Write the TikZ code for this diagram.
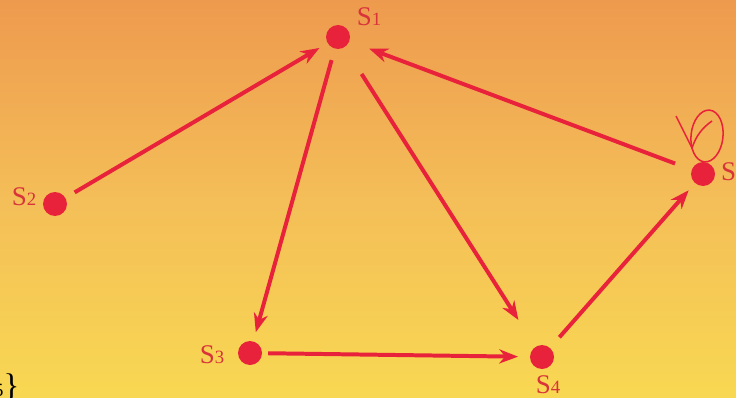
\documentclass[tikz,border=0pt]{standalone}
\usepackage{fontspec}
\setmainfont{Liberation Serif}
\usetikzlibrary{arrows.meta}
\definecolor{dotred}{HTML}{E8223A}
\definecolor{labred}{HTML}{D8343A}
\definecolor{bgtop}{HTML}{EE9A4E}
\definecolor{bgmid}{HTML}{F4BE58}
\definecolor{bgbot}{HTML}{F8D852}
\tikzset{
  state/.style={circle, fill=dotred, draw=none, minimum size=24*0.03cm, inner sep=0pt},
  lab/.style={text=labred, inner sep=0pt},
  link/.style={draw=dotred, line width=3.4pt, -{Stealth[length=16pt, width=12pt, inset=5pt]}},
}
\newcommand{\slab}[1]{{\fontsize{23}{26}\selectfont S}{\fontsize{16}{18}\selectfont #1}}
\begin{document}
\begin{tikzpicture}[x=0.03cm, y=-0.03cm]
\useasboundingbox (0,0) rectangle (736,398);
\shade[top color=bgtop, bottom color=bgbot, middle color=bgmid] (0,0) rectangle (736,398);
\node[state] (s1) at (338,37) {};
\node[state] (s2) at (55,204) {};
\node[state] (s3) at (250,353) {};
\node[state] (s4) at (542,357) {};
\node[state] (s5) at (703,174) {};
\node[lab, anchor=center] (l1) at (369,17) {\slab{1}};
\node[lab, anchor=center] (l2) at (24,197) {\slab{2}};
\node[lab, anchor=center] (l3) at (212,355) {\slab{3}};
\node[lab, anchor=center] (l4) at (548,385) {\slab{4}};
\node[lab, anchor=west] (l5) at (721,172) {{\fontsize{23}{26}\selectfont S}};
\node[anchor=base west, inner sep=0pt] (brace) at (-6,396) {{\fontsize{16}{18}\selectfont 5}{\fontsize{28}{30}\selectfont\}}};
\draw[link, shorten <=9pt, shorten >=8pt] (s2) -- (s1);
\draw[link, shorten <=10pt, shorten >=8pt] (s1) -- (s3);
\draw[link, shorten <=27pt, shorten >=27pt] (s1) -- (s4);
\draw[link, shorten <=5pt, shorten >=10pt] (s3) -- (s4);
\draw[link, shorten <=12pt, shorten >=8pt] (s4) -- (s5);
\draw[link, shorten <=15pt, shorten >=18pt] (s5) -- (s1);
\draw[draw=dotred, line width=1.3pt, rotate around={-6:(707,136)}] (707,136) ellipse (16 and 26);
\draw[draw=dotred, line width=1.3pt] (676,116) -- (692,148) .. controls (696,136) and (702,128) .. (712,121);
\end{tikzpicture}
\end{document}
